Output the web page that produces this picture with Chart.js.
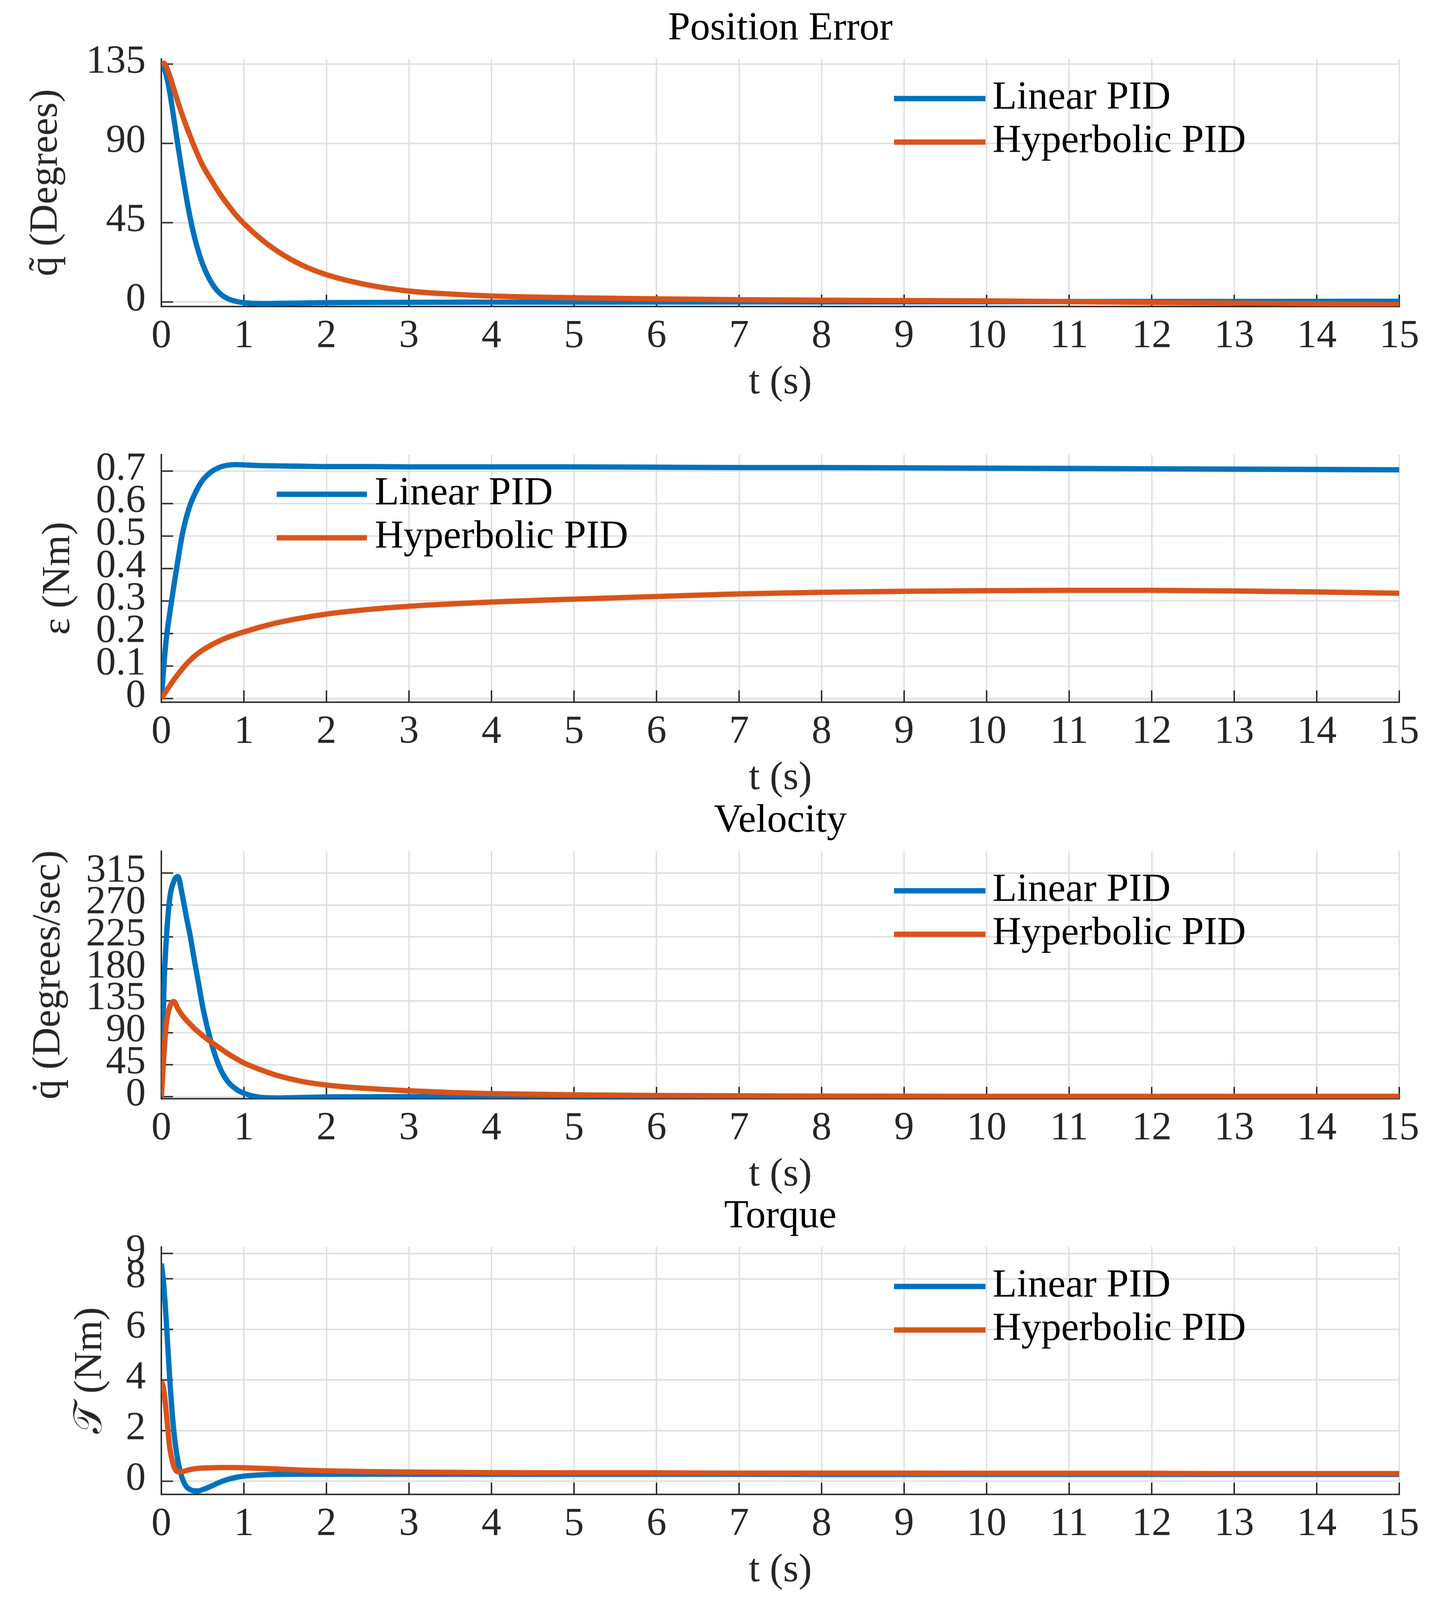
<!DOCTYPE html>
<html>
<head>
<meta charset="utf-8">
<script src="https://cdn.jsdelivr.net/npm/chart.js@4.4.1/dist/chart.umd.min.js"></script>
<style>
    html, body { margin: 0; padding: 0; background: #ffffff; overflow: hidden; }
    .panel { position: absolute; left: 0; }
</style>
</head>
<body>
<div class="panel" id="posPanel"><canvas id="posChart"></canvas></div>
<div class="panel" id="epsPanel"><canvas id="epsChart"></canvas></div>
<div class="panel" id="velPanel"><canvas id="velChart"></canvas></div>
<div class="panel" id="torquePanel"><canvas id="torqueChart"></canvas></div>
<script>
// -------- DATA -----------------------------------
const timeSec = [0, 0.03, 0.06, 0.1, 0.15, 0.2, 0.25, 0.3, 0.35, 0.4, 0.45, 0.5, 0.6, 0.7, 0.8, 0.9,
    1, 1.2, 1.4, 1.7, 2, 2.5, 3, 3.5, 4, 5, 6, 7, 8, 9, 10, 11, 12, 13, 14, 15];

const posLinear = [134.5, 133, 128.5, 119.5, 104.5, 89, 74, 60, 47.5, 37, 28.5, 21.5, 11.5, 5.3, 2, 0.4,
    -0.4, -0.9, -0.8, -0.6, -0.4, -0.3, -0.2, -0.15, -0.1, -0.1, -0.05, 0, 0.05, 0.1, 0.15, 0.2, 0.25, 0.3, 0.35, 0.4];
const posHyper = [135, 135.5, 133.5, 128.5, 121, 113.5, 106.5, 100, 94, 88, 82.5, 77.5, 69.5, 62, 55.5, 49.5,
    44.5, 36, 29, 21, 15.5, 9.7, 6.2, 4.5, 3.4, 2.4, 1.8, 1.3, 1.0, 0.8, 0.6, 0.2, -0.3, -0.6, -1.0, -1.5];

const epsLinear = [0, 0.1, 0.185, 0.26, 0.345, 0.425, 0.5, 0.555, 0.597, 0.627, 0.652, 0.672, 0.697, 0.711, 0.718, 0.72,
    0.719, 0.717, 0.716, 0.715, 0.714, 0.714, 0.713, 0.713, 0.713, 0.713, 0.712, 0.711, 0.711, 0.71, 0.709, 0.708, 0.707, 0.706, 0.705, 0.704];
const epsHyper = [0, 0.012, 0.024, 0.039, 0.057, 0.074, 0.09, 0.105, 0.118, 0.13, 0.14, 0.149, 0.164, 0.177, 0.188, 0.197,
    0.205, 0.22, 0.233, 0.248, 0.26, 0.274, 0.284, 0.291, 0.297, 0.306, 0.314, 0.322, 0.327, 0.33, 0.332, 0.333, 0.333, 0.331, 0.328, 0.324];

const velLinear = [0, 150, 222, 278, 303, 310, 286, 255, 226, 192, 160, 127, 78, 43, 22, 11,
    4.8, -1, -1.8, -1.2, -0.5, -0.2, 0, 0, 0, 0, 0, 0, 0, 0, 0, 0, 0, 0, 0, 0];
const velHyper = [0, 58, 103, 126, 134, 124, 115, 108, 102, 96, 91, 86, 77, 69, 61, 54,
    47.5, 38, 30, 21.5, 16.4, 11.5, 8.3, 5.8, 4.2, 2.5, 1.6, 1.1, 0.8, 0.6, 0.4, 0.3, 0.3, 0.3, 0.3, 0.3];

const torqueLinear = [8.6, 7.7, 6.3, 4.1, 2.0, 0.8, 0.15, -0.2, -0.33, -0.38, -0.38, -0.33, -0.2, -0.05, 0.07, 0.15,
    0.2, 0.25, 0.27, 0.28, 0.28, 0.28, 0.28, 0.28, 0.28, 0.28, 0.28, 0.28, 0.27, 0.27, 0.27, 0.27, 0.27, 0.27, 0.27, 0.27];
const torqueHyper = [3.95, 3.6, 2.7, 1.37, 0.6, 0.38, 0.38, 0.42, 0.46, 0.49, 0.51, 0.52, 0.53, 0.54, 0.54, 0.54,
    0.53, 0.51, 0.48, 0.44, 0.41, 0.38, 0.36, 0.35, 0.34, 0.33, 0.33, 0.32, 0.32, 0.32, 0.31, 0.31, 0.31, 0.3, 0.3, 0.3];

const seriesLabels = ["Linear PID", "Hyperbolic PID"];
const timeTicks = [0, 1, 2, 3, 4, 5, 6, 7, 8, 9, 10, 11, 12, 13, 14, 15];
const posTicks = [0, 45, 90, 135];
const epsTicks = [0, 0.1, 0.2, 0.3, 0.4, 0.5, 0.6, 0.7];
const velTicks = [0, 45, 90, 135, 180, 225, 270, 315];
const torqueTicks = [0, 2, 4, 6, 8, 9];

// -------- LAYOUT: designed for 3675 x 4971, scaled to the real window ---------------
const sx = window.innerWidth / 3675;
const sy = window.innerHeight / 4971;
const fs = Math.sqrt(sx * sy);

const panelH = 1290 * sy;
const fontFamily = "'Liberation Serif', 'DejaVu Serif', serif";
const fontSize = Math.round(112 * fs);
const lineW = 15 * fs;
const blue = "#0072BD";
const orange = "#D95319";
const axisColor = "#262626";
const gridColor = "#dfdfdf";
const tickLen = 33 * fs;

[["posPanel", 0], ["epsPanel", 1230], ["velPanel", 2461], ["torquePanel", 3691]].forEach(([pid, top]) => {
    const el = document.getElementById(pid);
    el.style.top = (top * sy) + "px";
    el.style.width = window.innerWidth + "px";
    el.style.height = panelH + "px";
});

function points(ys) {
    return timeSec.map((t, i) => ({ x: t, y: ys[i] }));
}

// ------------ inward ticks, title and legend, MATLAB look -------------------
const matlabAxes = {
    id: 'matlabAxes',
    beforeDatasetsDraw(chart) {
        const ctx = chart.ctx;
        const area = chart.chartArea;
        const xs = chart.scales.x, ys = chart.scales.y;
        ctx.save();
        ctx.strokeStyle = axisColor;
        ctx.lineWidth = 4 * fs;
        xs.ticks.forEach(tk => {
            const px = xs.getPixelForValue(tk.value);
            ctx.beginPath(); ctx.moveTo(px, area.bottom); ctx.lineTo(px, area.bottom - tickLen); ctx.stroke();
        });
        ys.ticks.forEach(tk => {
            const py = ys.getPixelForValue(tk.value);
            ctx.beginPath(); ctx.moveTo(area.left, py); ctx.lineTo(area.left + tickLen, py); ctx.stroke();
        });
        ctx.restore();
    },
    afterDraw(chart, args, opts) {
        const ctx = chart.ctx;
        const area = chart.chartArea;
        ctx.save();
        ctx.font = fontSize + "px " + fontFamily;
        if (opts.title) {
            ctx.fillStyle = "#000000";
            ctx.textAlign = "center";
            ctx.textBaseline = "middle";
            ctx.fillText(opts.title, (area.left + area.right) / 2, 90 * sy);
        }
        // legend, no box
        ctx.textAlign = "left";
        ctx.textBaseline = "alphabetic";
        chart.data.datasets.forEach((ds, i) => {
            const y = area.top + opts.legendRows[i] * sy;
            ctx.strokeStyle = ds.borderColor;
            ctx.lineWidth = lineW;
            ctx.beginPath(); ctx.moveTo(opts.legendLine[0] * sx, y); ctx.lineTo(opts.legendLine[1] * sx, y); ctx.stroke();
            ctx.fillStyle = "#000000";
            ctx.fillText(ds.label, opts.legendText * sx, y + 0.25 * fontSize);
        });
        ctx.restore();
    }
};

function makePanel(canvasId, cfg) {
    return new Chart(document.getElementById(canvasId), {
        type: 'line',
        data: {
            datasets: [
                { label: seriesLabels[0], data: points(cfg.linear), borderColor: blue, order: 1 },
                { label: seriesLabels[1], data: points(cfg.hyper), borderColor: orange, order: 0 }
            ]
        },
        options: {
            responsive: true,
            maintainAspectRatio: false,
            devicePixelRatio: 1,
            animation: false,
            events: [],
            layout: { padding: { top: 183 * sy, right: 94 * sx, bottom: 0, left: 0 } },
            elements: {
                point: { radius: 0 },
                line: { borderWidth: lineW, cubicInterpolationMode: 'monotone', fill: false }
            },
            scales: {
                x: {
                    type: 'linear',
                    min: 0,
                    max: 15,
                    afterBuildTicks: scale => { scale.ticks = timeTicks.map(v => ({ value: v })); },
                    afterFit: scale => { scale.height = 339 * sy; },
                    grid: { color: gridColor, lineWidth: 4 * fs, drawTicks: false },
                    border: { display: true, color: axisColor, width: 4 * fs },
                    ticks: {
                        autoSkip: false,
                        padding: 94 * sy - fontSize / 2,
                        color: axisColor,
                        maxRotation: 0,
                        font: { family: fontFamily, size: fontSize, lineHeight: 1 },
                        callback: v => String(v)
                    },
                    title: {
                        display: true,
                        text: "t (s)",
                        color: axisColor,
                        padding: { top: 0, bottom: panelH - 1188 * sy - 0.6 * fontSize },
                        font: { family: fontFamily, size: fontSize, lineHeight: 1.2 }
                    }
                },
                y: {
                    type: 'linear',
                    min: cfg.yMin,
                    max: cfg.yMax,
                    afterBuildTicks: scale => { scale.ticks = cfg.yTicks.map(v => ({ value: v })); },
                    afterFit: scale => { scale.width = 413 * sx; },
                    grid: { color: gridColor, lineWidth: 4 * fs, drawTicks: false },
                    border: { display: true, color: axisColor, width: 4 * fs },
                    ticks: {
                        autoSkip: false,
                        padding: 40 * sx,
                        labelOffset: -6 * sy,
                        color: axisColor,
                        font: { family: fontFamily, size: fontSize, lineHeight: 1 },
                        callback: v => String(v)
                    },
                    title: {
                        display: true,
                        text: cfg.yLabel,
                        color: axisColor,
                        padding: { top: cfg.yLabelX * sx - 0.6 * fontSize, bottom: 0 },
                        font: { family: fontFamily, size: fontSize, lineHeight: 1.2 }
                    }
                }
            },
            plugins: {
                legend: { display: false },
                tooltip: { enabled: false },
                matlabAxes: {
                    title: cfg.title,
                    legendRows: [123, 258],
                    legendLine: cfg.legendLine,
                    legendText: cfg.legendText
                }
            }
        },
        plugins: [matlabAxes]
    });
}

// -------- POSITION ERROR ---------------
makePanel("posChart", {
    title: "Position Error", yLabel: "q\u0303 (Degrees)", yLabelX: 118,
    yMin: -2.5, yMax: 137.9, yTicks: posTicks,
    linear: posLinear, hyper: posHyper,
    legendLine: [2288, 2522], legendText: 2540
});

// -------- CONTROL EFFORT ---------------
makePanel("epsChart", {
    title: "", yLabel: "\u03b5 (Nm)", yLabelX: 150,
    yMin: -0.011, yMax: 0.7506, yTicks: epsTicks,
    linear: epsLinear, hyper: epsHyper,
    legendLine: [708, 939], legendText: 959
});

// -------- VELOCITY ---------------
makePanel("velChart", {
    title: "Velocity", yLabel: "q\u0307 (Degrees/sec)", yLabelX: 125,
    yMin: -2.7, yMax: 345.8, yTicks: velTicks,
    linear: velLinear, hyper: velHyper,
    legendLine: [2288, 2522], legendText: 2540
});

// -------- TORQUE ---------------
makePanel("torqueChart", {
    title: "Torque", yLabel: "\u{1D4AF} (Nm)", yLabelX: 232,
    yMin: -0.515, yMax: 9.26, yTicks: torqueTicks,
    linear: torqueLinear, hyper: torqueHyper,
    legendLine: [2288, 2522], legendText: 2540
});
</script>
</body>
</html>
